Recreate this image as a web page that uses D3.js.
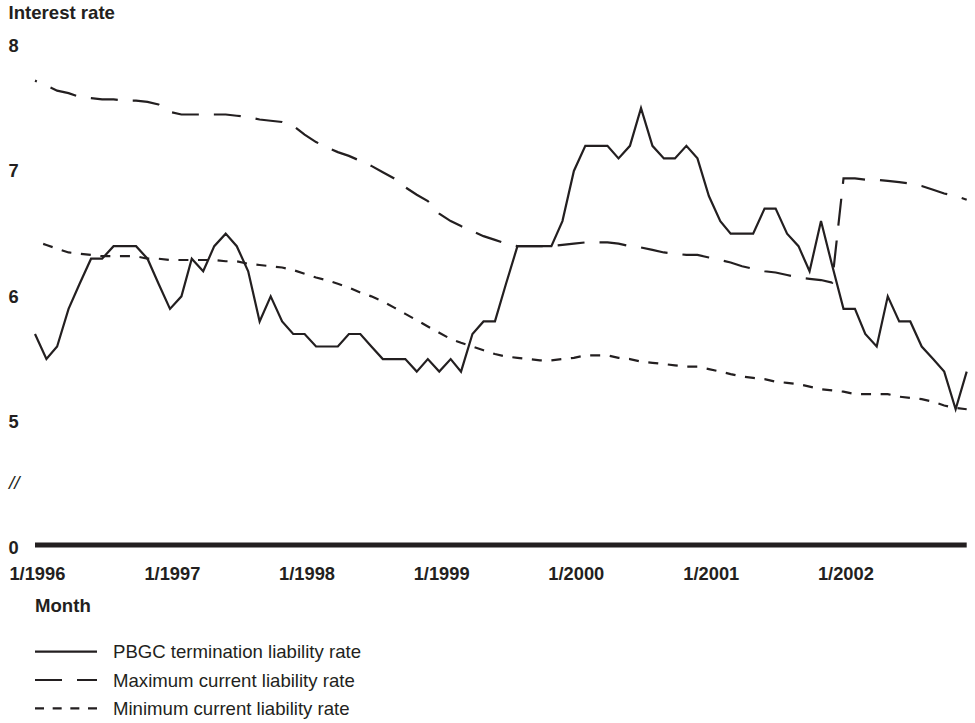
<!DOCTYPE html>
<html>
<head>
<meta charset="utf-8">
<script src="https://cdn.jsdelivr.net/npm/d3@7"></script>
<style>
  html, body { margin: 0; padding: 0; background: #fff; }
  svg { display: block; }
  text { font-family: "Liberation Sans", Arial, Helvetica, sans-serif; fill: #231f20; }
</style>
</head>
<body>
<svg id="chart" width="975" height="723"></svg>
<script>
// ---------- DATA ----------
const startMonth = "1996-01";
const endMonth = "2002-12";

const pbgcRate = [
  5.7, 5.5, 5.6, 5.9, 6.1, 6.3, 6.3, 6.4, 6.4, 6.4, 6.3, 6.1,
  5.9, 6.0, 6.3, 6.2, 6.4, 6.5, 6.4, 6.2, 5.8, 6.0, 5.8, 5.7,
  5.7, 5.6, 5.6, 5.6, 5.7, 5.7, 5.6, 5.5, 5.5, 5.5, 5.4, 5.5,
  5.4, 5.5, 5.4, 5.7, 5.8, 5.8, 6.1, 6.4, 6.4, 6.4, 6.4, 6.6,
  7.0, 7.2, 7.2, 7.2, 7.1, 7.2, 7.5, 7.2, 7.1, 7.1, 7.2, 7.1,
  6.8, 6.6, 6.5, 6.5, 6.5, 6.7, 6.7, 6.5, 6.4, 6.2, 6.6, 6.25,
  5.9, 5.9, 5.7, 5.6, 6.0, 5.8, 5.8, 5.6, 5.5, 5.4, 5.1, 5.4
];

const maxCurrentRate = [
  7.72, 7.68, 7.64, 7.62, 7.59, 7.58, 7.57, 7.57, 7.56, 7.56, 7.55, 7.53,
  7.47, 7.45, 7.45, 7.45, 7.45, 7.45, 7.44, 7.43, 7.41, 7.40, 7.39, 7.36,
  7.29, 7.23, 7.19, 7.15, 7.12, 7.08, 7.04, 6.99, 6.94, 6.87, 6.81, 6.76,
  6.66, 6.60, 6.56, 6.52, 6.48, 6.45, 6.42, 6.40, 6.40, 6.40, 6.40, 6.41,
  6.42, 6.43, 6.43, 6.43, 6.42, 6.40, 6.39, 6.37, 6.35, 6.34, 6.33, 6.33,
  6.31, 6.29, 6.27, 6.24, 6.22, 6.20, 6.19, 6.17, 6.15, 6.14, 6.13, 6.11,
  6.94, 6.94, 6.93, 6.93, 6.92, 6.91, 6.90, 6.88, 6.85, 6.82, 6.80, 6.77
];

const minCurrentRate = [
  6.44, 6.41, 6.38, 6.35, 6.34, 6.33, 6.32, 6.32, 6.32, 6.32, 6.30, 6.30,
  6.29, 6.29, 6.29, 6.29, 6.29, 6.28, 6.28, 6.26, 6.25, 6.24, 6.23, 6.21,
  6.18, 6.15, 6.13, 6.10, 6.07, 6.03, 6.00, 5.96, 5.91, 5.86, 5.81, 5.76,
  5.71, 5.66, 5.63, 5.60, 5.57, 5.54, 5.52, 5.51, 5.50, 5.49, 5.49, 5.50,
  5.51, 5.53, 5.53, 5.53, 5.51, 5.50, 5.48, 5.47, 5.46, 5.45, 5.44, 5.44,
  5.42, 5.40, 5.38, 5.36, 5.35, 5.34, 5.32, 5.31, 5.30, 5.28, 5.26, 5.25,
  5.24, 5.22, 5.22, 5.22, 5.22, 5.20, 5.19, 5.18, 5.16, 5.13, 5.11, 5.10
];

const seriesNames = [
  "PBGC termination liability rate",
  "Maximum current liability rate",
  "Minimum current liability rate"
];

const yTickValues = [5, 6, 7, 8];
const yBreakValue = 4;        // axis break: the bottom of the plot is labelled 0
const yBreakLabel = "0";
const xTickYears = [1996, 1997, 1998, 1999, 2000, 2001, 2002];
const yAxisTitle = "Interest rate";
const xAxisTitle = "Month";

// ---------- CHART ----------
const svg = d3.select("#chart");
const ink = "#231f20";
const parseMonth = d3.timeParse("%Y-%m");
const months = d3.timeMonth.range(parseMonth(startMonth), d3.timeMonth.offset(parseMonth(endMonth), 1));

const x = d3.scaleTime()
  .domain([parseMonth(startMonth), parseMonth(endMonth)])
  .range([35, 966.7]);

const y = d3.scaleLinear()
  .domain([4, 8])
  .range([547.2, 45.5]);

const series = [
  { name: seriesNames[0], values: pbgcRate, dash: null, legendDash: null },
  { name: seriesNames[1], values: maxCurrentRate, dash: "27,15", offset: 25, legendDash: "27,15" },
  { name: seriesNames[2], values: minCurrentRate, dash: "10,9.6", offset: 11, legendDash: "9,8.67" }
];

const line = d3.line()
  .x((d, i) => x(months[i]))
  .y(d => y(d));

// Y axis title
svg.append("text")
  .attr("x", 8.5).attr("y", 19)
  .attr("font-size", 18.6).attr("font-weight", "bold")
  .text(yAxisTitle);

// Y tick labels
svg.append("g").selectAll("text")
  .data(yTickValues)
  .join("text")
  .attr("x", 8.5)
  .attr("y", d => y(d) + 6.5)
  .attr("font-size", 18.3).attr("font-weight", "bold")
  .text(d => d);

svg.append("text")
  .attr("x", 8.5).attr("y", y(yBreakValue) + 7)
  .attr("font-size", 18.3).attr("font-weight", "bold")
  .text(yBreakLabel);

// axis break mark
svg.append("text")
  .attr("x", 9).attr("y", y(4.52) + 7)
  .attr("font-size", 19).attr("font-style", "italic")
  .text("//");

// Baseline (x axis)
svg.append("line")
  .attr("x1", x.range()[0]).attr("x2", x.range()[1])
  .attr("y1", y(yBreakValue) - 2.2).attr("y2", y(yBreakValue) - 2.2)
  .attr("stroke", ink).attr("stroke-width", 5);

// X tick labels
const fmt = d3.timeFormat("%-m/%Y");
svg.append("g").selectAll("text")
  .data(xTickYears.map(yr => new Date(yr, 0, 1)))
  .join("text")
  .attr("x", d => x(d) + 2.4)
  .attr("y", 580)
  .attr("text-anchor", "middle")
  .attr("font-size", 18.3).attr("font-weight", "bold")
  .text(d => fmt(d));

// X axis title
svg.append("text")
  .attr("x", 35).attr("y", 612)
  .attr("font-size", 18.6).attr("font-weight", "bold")
  .text(xAxisTitle);

// Lines
svg.append("g").selectAll("path")
  .data(series)
  .join("path")
  .attr("d", d => line(d.values))
  .attr("fill", "none")
  .attr("stroke", ink)
  .attr("stroke-width", 2.2)
  .attr("stroke-linejoin", "miter")
  .attr("stroke-dasharray", d => d.dash)
  .attr("stroke-dashoffset", d => d.offset || 0);

// Legend
const legend = svg.append("g");
const legendY = [651.7, 680, 708.3];
series.forEach((s, i) => {
  legend.append("line")
    .attr("x1", 35).attr("x2", 97)
    .attr("y1", legendY[i]).attr("y2", legendY[i])
    .attr("stroke", ink).attr("stroke-width", 2.2)
    .attr("stroke-dasharray", s.legendDash);
  legend.append("text")
    .attr("x", 113).attr("y", legendY[i] + 6.6)
    .attr("font-size", 18.6)
    .text(s.name);
});
</script>
</body>
</html>
